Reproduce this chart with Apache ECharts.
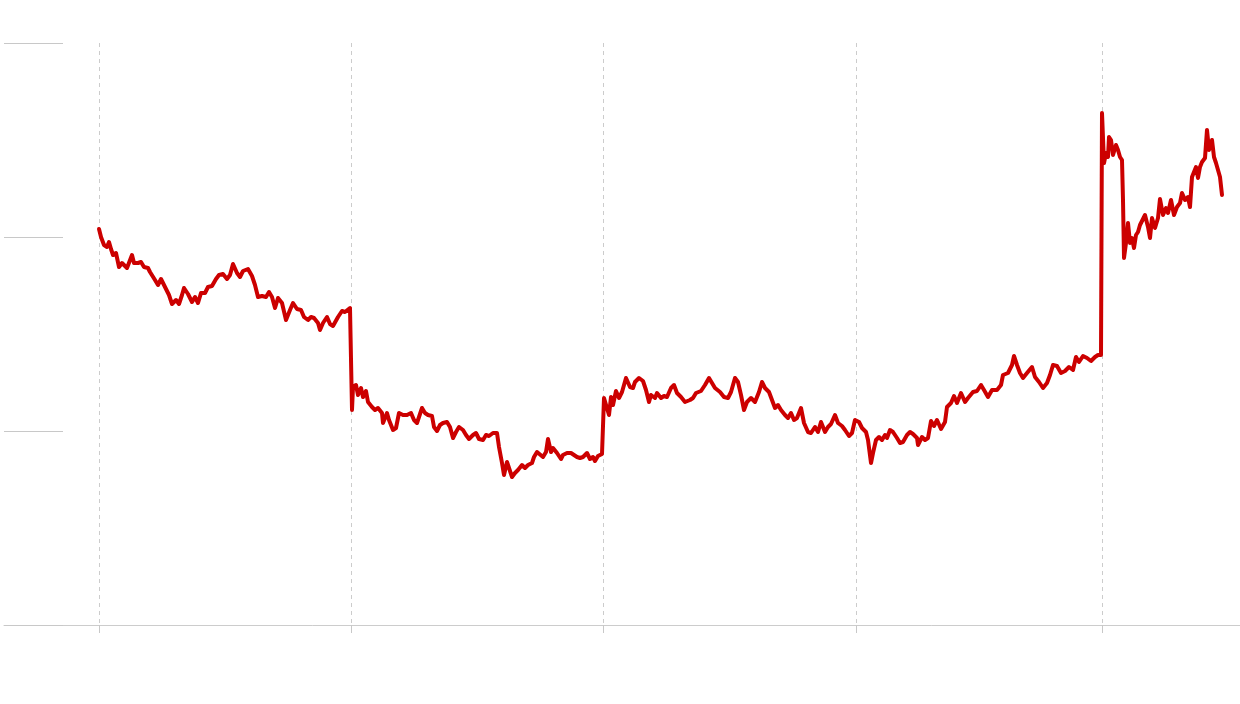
<!DOCTYPE html>
<html>
<head>
<meta charset="utf-8">
<script src="https://cdn.jsdelivr.net/npm/echarts@6/dist/echarts.min.js"></script>
<style>
html,body{margin:0;padding:0;background:#fff;}
#chart{width:1240px;height:704px;}
</style>
</head>
<body>
<div id="chart"></div>
<script>
// Trading-day index axis (0..1236); year boundaries marked by dashed lines
const dayCount = 1237;
const yearStarts = [95, 347, 599, 852, 1098];

// Y tick values (unlabelled in the reference)
const yTicks = [0, 194, 388, 582];

// Observations: trading-day index and value
const obsDays = [
  95,97,100,103,105,107,109,112,115,118,120,123,125,128,130,134,137,140,144,146,
  151,154,157,161,165,168,172,175,178,180,184,188,191,194,197,201,204,208,212,215,
  219,223,226,229,233,236,239,244,248,251,254,258,262,265,268,271,274,278,282,286,
  289,293,297,300,304,307,310,314,316,319,323,326,329,334,338,341,346,347,
  348,349,352,354,357,359,362,364,368,371,374,378,379,383,385,389,392,395,399,403,
  407,410,413,418,421,424,428,430,433,436,439,443,446,449,452,455,459,462,465,469,
  472,475,479,482,485,489,493,495,498,500,503,505,508,511,514,518,521,524,528,530,
  533,535,539,542,544,547,549,553,557,559,563,567,569,573,576,579,583,586,589,591,
  594,598,599,
  600,602,605,607,609,612,615,618,622,626,629,631,635,639,642,645,647,651,653,657,
  660,663,667,670,673,677,681,686,689,692,697,701,705,707,711,716,720,724,727,731,
  734,737,740,743,747,751,755,758,761,765,768,771,774,777,781,784,787,790,793,797,
  800,804,807,811,814,817,821,824,827,831,834,838,841,845,848,851,855,858,
  862,864,867,869,872,875,878,881,883,886,889,893,896,899,903,906,909,913,914,918,
  921,924,927,930,933,937,941,943,947,950,953,957,961,964,969,973,977,980,984,988,
  993,997,999,1004,1008,1010,1013,1016,1019,1023,1028,1031,1035,1039,1043,1046,1049,1053,1057,1061,
  1065,1069,1072,1075,1079,1083,1087,1091,1094,1097,
  1098,1100,1102,1104,1105,1107,1109,1112,1114,1116,1118,1119,1120,1122,1124,1126,1128,1130,1132,1134,
  1136,1138,1141,1144,1146,1148,1151,1154,1156,1159,1162,1164,1167,1170,1173,1176,1178,1181,1184,1186,
  1188,1190,1192,1194,1196,1198,1201,1203,1205,1208,1210,1212,1214,1216,1218
];
const obsValues = [
  396,388,380,378,383,376,370,372,358,362,362,357,358,370,362,362,363,358,357,353,
  345,340,346,338,330,321,325,321,330,337,331,323,328,322,332,332,338,339,346,350,
  351,346,350,361,352,348,354,356,349,340,328,329,328,333,328,317,327,322,305,315,
  322,316,315,308,305,308,307,302,295,302,308,301,299,308,314,313,317,316,
  215,238,240,230,237,228,234,223,218,215,217,212,202,212,205,195,197,212,210,210,
  212,205,202,217,212,210,209,198,194,200,202,203,198,187,193,198,195,190,186,190,
  192,186,185,190,189,192,192,178,162,150,163,157,148,152,155,160,157,160,162,168,
  173,171,168,173,186,173,177,172,166,170,172,172,171,168,167,168,172,166,168,164,
  169,171,170,
  227,227,210,228,220,234,227,233,247,238,237,243,247,244,235,223,230,227,232,227,
  229,228,237,240,232,228,223,225,227,232,234,240,247,245,237,233,228,227,233,247,
  243,230,215,223,227,223,233,243,237,233,225,217,220,215,210,207,212,205,207,217,
  202,193,192,198,193,203,193,198,201,210,202,199,195,189,192,205,203,197,
  193,185,162,172,185,188,185,190,187,195,193,187,182,183,190,193,191,187,180,188,
  185,187,204,199,205,196,203,218,222,229,222,232,223,227,233,234,240,235,228,235,
  235,240,250,252,260,269,260,252,247,252,258,248,243,237,242,250,260,259,252,254,
  258,255,268,263,269,267,264,268,270,270,
  512,462,472,468,488,485,470,480,475,468,465,425,367,382,402,382,387,377,390,393,
  400,402,410,398,387,407,397,407,426,410,417,412,425,410,418,422,432,425,428,418,
  448,448,458,447,458,463,467,495,475,485,468,462,455,448,430
];

const categories = Array.from({length: dayCount}, (_, i) => String(i));
const seriesData = obsDays.map((d, i) => [d, obsValues[i]]);
const isYearStart = (idx) => yearStarts.indexOf(idx) !== -1;

const chart = echarts.init(document.getElementById('chart'), null, {renderer: 'canvas'});
chart.setOption({
  animation: false,
  backgroundColor: '#ffffff',
  grid: {left: 4, right: 0, top: 43, bottom: 79, containLabel: false},
  xAxis: {
    type: 'category',
    data: categories,
    boundaryGap: false,
    axisLine: {show: true, lineStyle: {color: '#cccccc', width: 1}},
    axisTick: {show: true, interval: isYearStart, length: 8, lineStyle: {color: '#c8c8c8', width: 1}},
    axisLabel: {show: false},
    splitLine: {show: true, interval: isYearStart, lineStyle: {color: '#cccccc', width: 1, type: [4, 4]}}
  },
  yAxis: {
    type: 'value',
    min: yTicks[0],
    max: yTicks[yTicks.length - 1],
    interval: yTicks[1] - yTicks[0],
    axisLine: {show: false},
    axisTick: {show: true, inside: true, length: 59, lineStyle: {color: '#c8c8c8', width: 1}},
    axisLabel: {show: false},
    splitLine: {show: false}
  },
  series: [{
    type: 'line',
    data: seriesData,
    showSymbol: false,
    symbol: 'none',
    lineStyle: {color: '#cc0000', width: 4, join: 'round', cap: 'round'},
    itemStyle: {color: '#cc0000'}
  }]
});
</script>
</body>
</html>
